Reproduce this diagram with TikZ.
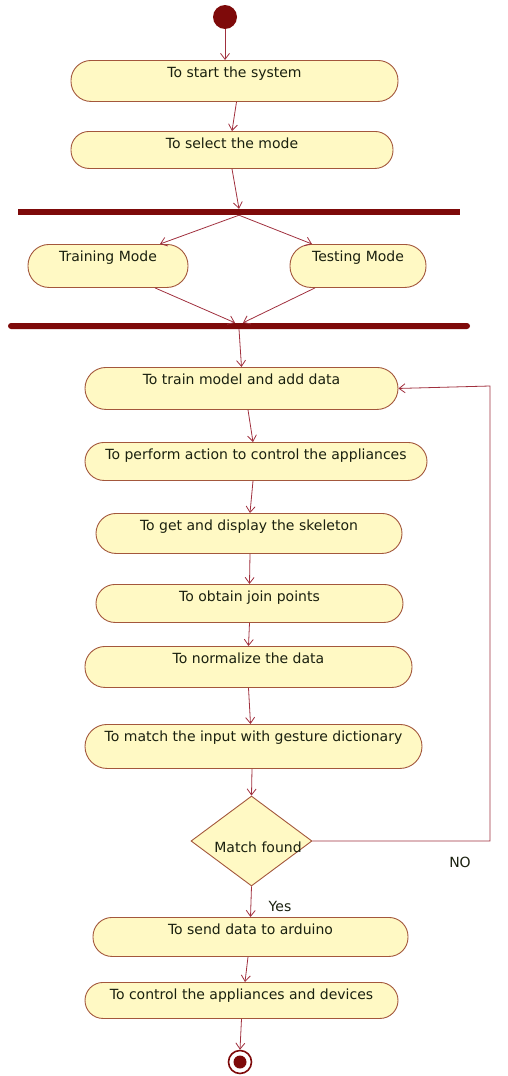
\documentclass[tikz,border=0pt]{standalone}
\usepackage{fontspec}
\setmainfont{DejaVu Sans}
\usetikzlibrary{shapes.geometric,arrows.meta}
\definecolor{actfill}{HTML}{FFF9C4}
\definecolor{actdraw}{HTML}{A3573C}
\definecolor{barcol}{HTML}{7E0A0A}
\definecolor{arrcol}{HTML}{A0303E}
\definecolor{txtcol}{HTML}{1A200F}
\begin{document}
\begin{tikzpicture}[x=1pt,y=-1pt,
  font=\fontsize{14}{16}\selectfont,
  act/.style={rectangle, rounded corners=19pt, draw=actdraw, fill=actfill, line width=0.9pt,
    text=txtcol, inner xsep=0pt, inner ysep=0pt, text height=17pt},
  bar/.style={rectangle, fill=barcol, inner sep=0pt, minimum height=6pt},
  flow/.style={draw=arrcol, line width=0.8pt, -{Straight Barb[length=6pt,width=9pt]}},
  lbl/.style={text=txtcol, inner sep=0pt}]
\useasboundingbox (0,0) rectangle (507,1076);
% start
\node[circle, fill=barcol, minimum size=24pt, inner sep=0pt] (start) at (225,17) {};
% activities
\node[act, rounded corners=20pt, minimum width=327pt, text depth=24pt] (startsys) at (234.5,60) [anchor=north] {To start the system};
\node[act, rounded corners=18pt, minimum width=322pt, text depth=20pt] (select) at (232,131) [anchor=north] {To select the mode};
\node[bar, minimum width=442pt] (fork) at (239,212) {};
\node[act, rounded corners=21pt, minimum width=160pt, text depth=26pt] (trainmode) at (108,244) [anchor=north] {Training Mode};
\node[act, rounded corners=21pt, minimum width=136pt, text depth=26pt] (testmode) at (358,244) [anchor=north] {Testing Mode};
\node[bar, minimum width=462pt, rounded corners=3pt] (join) at (239,326) {};
\node[act, rounded corners=21pt, minimum width=313pt, text depth=25pt] (train) at (241.5,367) [anchor=north] {To train model and add data};
\node[act, rounded corners=19pt, minimum width=342pt, text depth=21pt] (perform) at (256,442) [anchor=north] {To perform action to control the appliances};
\node[act, rounded corners=20pt, minimum width=306pt, text depth=23pt] (skeleton) at (249,513) [anchor=north] {To get and display the skeleton};
\node[act, rounded corners=19pt, minimum width=307pt, text depth=21pt] (joinpts) at (249.5,584) [anchor=north] {To obtain join points};
\node[act, rounded corners=20pt, minimum width=327pt, text depth=24pt] (normalize) at (248.5,646) [anchor=north] {To normalize the data};
\node[act, rounded corners=22pt, minimum width=337pt, text depth=27pt] (match) at (253.5,724) [anchor=north] {To match the input with gesture dictionary};
\node[diamond, draw=actdraw, fill=actfill, line width=0.9pt, text=txtcol, inner sep=0pt,
  aspect=1.34, minimum width=121pt, minimum height=90pt] (dec) at (251.5,841) {};
\node[lbl] (dectext) at (258,847) {Match found};
\node[act, rounded corners=19pt, minimum width=315pt, text depth=22pt] (send) at (250.5,917) [anchor=north] {To send data to arduino};
\node[act, rounded corners=18pt, minimum width=313pt, text depth=19pt] (control) at (241.5,982) [anchor=north] {To control the appliances and devices};
% end
\node[circle, draw=barcol, fill=white, line width=1.6pt, minimum size=23pt, inner sep=0pt] (finish) at (240,1062) {};
\node[circle, fill=barcol, minimum size=13pt, inner sep=0pt] (finishdot) at (finish) {};
% labels
\node[lbl] (yes) at (280,906) {Yes};
\node[lbl] (no) at (460,862) {NO};
\coordinate (loopA) at (490,841);
\coordinate (loopB) at (490,386);
% connectors
\draw[flow] (start) -- (start |- startsys.north);
\draw[flow] ([xshift=2pt]startsys.south) -- (select.north);
\draw[flow] (select.south) -- (fork.north);
\draw[flow] (fork.south) -- ([xshift=52pt]trainmode.north);
\draw[flow] (fork.south) -- ([xshift=-46pt]testmode.north);
\draw[flow] ([xshift=47pt]trainmode.south) -- ([xshift=-4pt]join.north);
\draw[flow] ([xshift=-43pt]testmode.south) -- ([xshift=4pt]join.north);
\draw[flow] (join.south) -- (train.north);
\draw[flow] ([xshift=6.5pt]train.south) -- ([xshift=-3pt]perform.north);
\draw[flow] ([xshift=-3pt]perform.south) -- ([xshift=1pt]skeleton.north);
\draw[flow] ([xshift=1pt]skeleton.south) -- (joinpts.north);
\draw[flow] (joinpts.south) -- (normalize.north);
\draw[flow] (normalize.south) -- ([xshift=-3pt]match.north);
\draw[flow] ([xshift=-1.5pt]match.south) -- (dec.north);
\draw[flow] (dec.south) -- (send.north);
\draw[flow] ([xshift=-2.5pt]send.south) -- ([xshift=3.5pt]control.north);
\draw[flow] (control.south) -- (finish.north);
\draw[flow] (dec.east) -- (loopA) -- (loopB) -- (train.east);
\end{tikzpicture}
\end{document}
